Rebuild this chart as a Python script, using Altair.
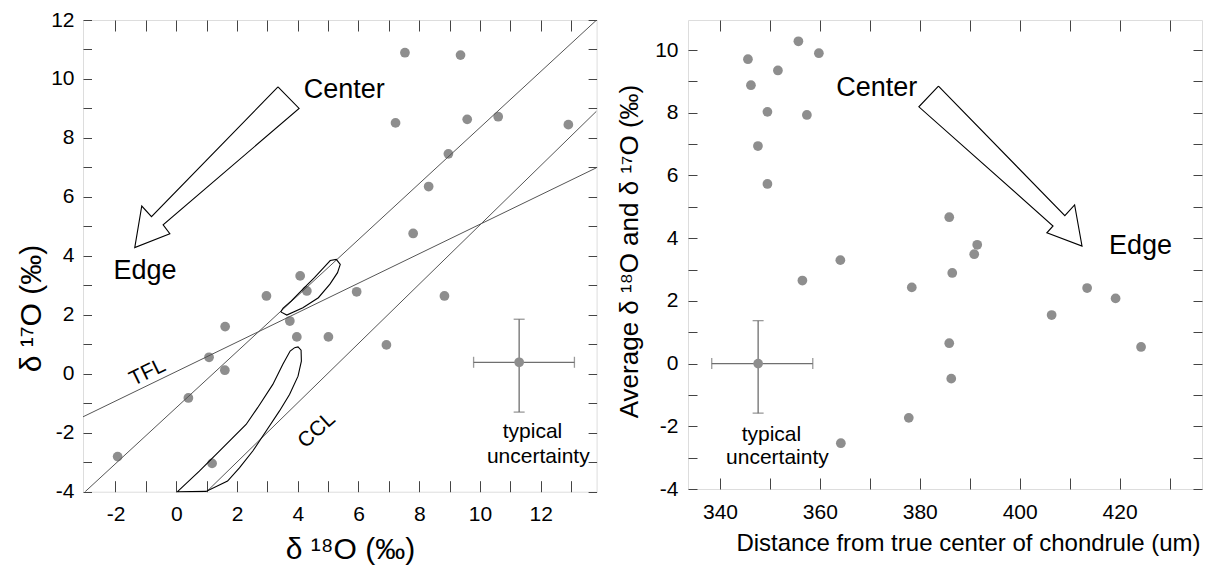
import altair as alt
import pandas as pd

FONT = "Liberation Sans"

# ---------------- left panel: three-isotope plot ----------------
d18O = [7.53, 9.36, 7.22, 9.58, 10.6, 12.91, 8.96, 8.31, 7.80, 4.08, 4.30, 2.97,
        5.94, 8.83, 1.61, 3.74, 3.97, 5.01, 6.92, 1.08, 1.60, 0.40, -1.93, 1.18]
d17O = [10.89, 10.81, 8.51, 8.63, 8.72, 8.45, 7.46, 6.35, 4.76, 3.32, 2.81, 2.64,
        2.78, 2.64, 1.60, 1.79, 1.25, 1.25, 0.98, 0.56, 0.12, -0.82, -2.81, -3.04]

# reference lines (end points)
line_name = ["TFL", "TFL", "CCAM", "CCAM", "CCL", "CCL"]
line_x = [-3.07, 13.84, -3.0, 13.84, 1.0, 13.84]
line_y = [-1.46, 6.99, -4.0, 12.0, -4.0, 8.91]

# outlined fields (small ellipse, large field) and arrow outline, in data units
ell_x = [3.44, 3.64, 4.17, 4.68, 5.06, 5.31, 5.40, 5.27, 5.07, 4.87, 4.55, 4.17, 3.79, 3.52, 3.44]
ell_y = [2.10, 1.99, 2.24, 2.58, 3.04, 3.43, 3.71, 3.88, 3.84, 3.62, 3.26, 2.87, 2.47, 2.23, 2.10]
fld_x = [3.89, 4.01, 4.11, 4.12, 4.01, 3.73, 3.40, 2.96, 2.52, 2.08, 1.69, 0.98, 0.04,
         0.76, 1.42, 2.30, 2.68, 3.18, 3.51, 3.75, 3.89]
fld_y = [0.88, 0.91, 0.80, 0.43, -0.08, -0.70, -1.26, -1.94, -2.62, -3.19, -3.64, -3.99, -4.0,
         -3.30, -2.62, -1.72, -1.15, -0.36, 0.32, 0.77, 0.88]
arrL_x = [3.35, -0.815, -1.135, -1.366, -0.21, -0.432, 4.045, 3.35]
arrL_y = [9.73, 5.33, 5.69, 4.28, 4.75, 5.05, 9.00, 9.73]

# typical uncertainty (left)
uncL_x, uncL_y = [11.29], [0.39]
uncL_xlo, uncL_xhi = [9.79], [13.11]
uncL_ylo, uncL_yhi = [-1.30], [1.85]

# annotations (left)
annL_text = ["Center", "Edge"]
annL_x = [5.53, -1.03]
annL_y = [9.34, 3.20]
uncL_text = ["typical", "uncertainty"]
uncL_tx = [11.73, 11.92]
uncL_ty = [-2.17, -3.02]
lineLab_text = ["TFL", "CCL"]
lineLab_x = [-0.94, 4.63]
lineLab_y = [0.04, -1.92]
lineLab_angle = [334, 318]

# ---------------- right panel: profile ----------------
dist = [345.6, 355.7, 359.8, 351.6, 346.2, 349.5, 357.4, 347.6, 349.5, 385.9, 391.5, 390.9,
        364.1, 386.5, 356.5, 378.4, 413.5, 419.2, 406.4, 385.9, 424.3, 386.3, 377.8, 364.2]
avgO = [9.71, 10.28, 9.90, 9.35, 8.88, 8.03, 7.93, 6.94, 5.73, 4.67, 3.79, 3.49,
        3.30, 2.89, 2.65, 2.43, 2.41, 2.08, 1.55, 0.65, 0.53, -0.48, -1.73, -2.54]

arrR_x = [383.74, 409.04, 411.0, 412.48, 405.44, 406.68, 379.82, 383.74]
arrR_y = [8.85, 4.72, 5.06, 3.75, 4.17, 4.39, 8.19, 8.85]

uncR_x, uncR_y = [347.64], [0.0]
uncR_xlo, uncR_xhi = [338.35], [358.58]
uncR_ylo, uncR_yhi = [-1.58], [1.37]

annR_text = ["Center", "Edge"]
annR_x = [371.4, 424.2]
annR_y = [8.53, 3.51]
uncR_text = ["typical", "uncertainty"]
uncR_tx = [350.3, 351.5]
uncR_ty = [-2.46, -3.20]

# ---------------- helpers ----------------
PT_COLOR = "#8e8e8e"
TICK_COLOR = "#444444"


def main_axis(orient, values, mod, tick, pad, title, **kw):
    return alt.Axis(
        orient=orient, values=values,
        labelExpr=f"datum.value % {mod} === 0 ? '' + datum.value : ''",
        tickSize=tick, offset=-tick, domain=False, grid=False,
        tickColor=TICK_COLOR, tickWidth=1,
        labelFont=FONT, labelFontSize=21, labelColor="black", labelPadding=pad,
        labelFlush=False, labelOverlap=False,
        title=title, titleFont=FONT, titleFontWeight="normal", titleColor="black",
        **kw)


def mirror_axis(orient, values, tick):
    return alt.Axis(orient=orient, values=values, labels=False, tickSize=tick,
                    offset=-tick, domain=False, grid=False,
                    tickColor=TICK_COLOR, tickWidth=1, title=None)


def panel(xs, ys, pts_x, pts_y, xaxis, yaxis, xtop, yright, extra):
    pts = alt.Chart(pd.DataFrame({"x": pts_x, "y": pts_y})).mark_circle(
        size=95, color=PT_COLOR, opacity=1).encode(
        x=alt.X("x:Q", scale=xs, axis=xaxis),
        y=alt.Y("y:Q", scale=ys, axis=yaxis))
    frame_ticks = alt.Chart(pd.DataFrame({"x": pts_x[:1], "y": pts_y[:1]})).mark_point(
        opacity=0).encode(
        x=alt.X("x:Q", scale=xs, axis=xtop),
        y=alt.Y("y:Q", scale=ys, axis=yright))
    return alt.layer(pts, frame_ticks, *extra).resolve_axis(x="independent", y="independent")


def enc(xs, ys, xf="x", yf="y"):
    return dict(x=alt.X(f"{xf}:Q", scale=xs, axis=None), y=alt.Y(f"{yf}:Q", scale=ys, axis=None))


def uncertainty(xs, ys, px, py, xlo, xhi, ylo, yhi):
    col = "#6f6f6f"
    h = alt.Chart(pd.DataFrame({"xlo": xlo, "xhi": xhi, "y": py})).mark_rule(
        color=col, strokeWidth=1.3).encode(
        x=alt.X("xlo:Q", scale=xs, axis=None), x2="xhi:Q", y=alt.Y("y:Q", scale=ys, axis=None))
    v = alt.Chart(pd.DataFrame({"x": px, "ylo": ylo, "yhi": yhi})).mark_rule(
        color=col, strokeWidth=1.3).encode(
        x=alt.X("x:Q", scale=xs, axis=None), y=alt.Y("ylo:Q", scale=ys, axis=None), y2="yhi:Q")
    capx = alt.Chart(pd.DataFrame({"x": xlo + xhi, "y": py * 2})).mark_tick(
        orient="vertical", size=11, thickness=1.3, color=col).encode(**enc(xs, ys))
    capy = alt.Chart(pd.DataFrame({"x": px * 2, "y": ylo + yhi})).mark_tick(
        orient="horizontal", size=11, thickness=1.3, color=col).encode(**enc(xs, ys))
    p = alt.Chart(pd.DataFrame({"x": px, "y": py})).mark_circle(
        size=95, color=PT_COLOR, opacity=1).encode(**enc(xs, ys))
    return [h, v, capx, capy, p]


def outline(xs, ys, xv, yv, name):
    df = pd.DataFrame({"x": xv, "y": yv, "o": list(range(len(xv))), "s": name})
    return alt.Chart(df).mark_line(color="black", strokeWidth=1.1).encode(
        detail="s:N", order="o:Q", **enc(xs, ys))


def texts(xs, ys, t, xv, yv, size, **kw):
    df = pd.DataFrame({"x": xv, "y": yv, "t": t})
    return alt.Chart(df).mark_text(font=FONT, fontSize=size, color="black", **kw).encode(
        text="t:N", **enc(xs, ys))


# ---------------- left panel ----------------
lxs = alt.Scale(domain=[-3.07, 13.84], nice=False, zero=False)
lys = alt.Scale(domain=[-4, 12], nice=False, zero=False)
lx_vals = list(range(-2, 14))
ly_vals = list(range(-4, 13))

left_extra = []
left_extra.append(alt.Chart(pd.DataFrame({"x": line_x, "y": line_y, "n": line_name})).mark_line(
    color="#555555", strokeWidth=1, clip=True).encode(detail="n:N", **enc(lxs, lys)))
left_extra.append(outline(lxs, lys, ell_x, ell_y, "ellipse"))
left_extra.append(outline(lxs, lys, fld_x, fld_y, "field"))
left_extra.append(outline(lxs, lys, arrL_x, arrL_y, "arrow"))
left_extra += uncertainty(lxs, lys, uncL_x, uncL_y, uncL_xlo, uncL_xhi, uncL_ylo, uncL_yhi)
left_extra.append(texts(lxs, lys, annL_text, annL_x, annL_y, 27, align="center", baseline="alphabetic"))
left_extra.append(texts(lxs, lys, uncL_text, uncL_tx, uncL_ty, 21, align="center", baseline="alphabetic"))
for t, x, y, a in zip(lineLab_text, lineLab_x, lineLab_y, lineLab_angle):
    left_extra.append(texts(lxs, lys, [t], [x], [y], 21, align="center", baseline="middle", angle=a))

left = panel(
    lxs, lys, d18O, d17O,
    main_axis("bottom", lx_vals, 2, 11, 12, "δ ¹⁸O (‰)", titleFontSize=30,
              titleX=267, titleY=78, titleAlign="center", titleBaseline="alphabetic"),
    main_axis("left", ly_vals, 2, 8.5, 9, "δ ¹⁷O (‰)", titleFontSize=30,
              titleX=-60, titleY=288, titleAngle=270, titleAlign="center", titleBaseline="middle"),
    mirror_axis("top", lx_vals, 11),
    mirror_axis("right", ly_vals, 8.5),
    left_extra,
).properties(width=513.6, height=471.7)

# ---------------- right panel ----------------
rxs = alt.Scale(domain=[333.6, 436.5], nice=False, zero=False)
rys = alt.Scale(domain=[-4, 10.96], nice=False, zero=False)
rx_vals = list(range(340, 431, 10))
ry_vals = list(range(-4, 11))

right_extra = []
right_extra.append(outline(rxs, rys, arrR_x, arrR_y, "arrow"))
right_extra += uncertainty(rxs, rys, uncR_x, uncR_y, uncR_xlo, uncR_xhi, uncR_ylo, uncR_yhi)
right_extra.append(texts(rxs, rys, annR_text, annR_x, annR_y, 27, align="center", baseline="alphabetic"))
right_extra.append(texts(rxs, rys, uncR_text, uncR_tx, uncR_ty, 21, align="center", baseline="alphabetic"))

right = panel(
    rxs, rys, dist, avgO,
    main_axis("bottom", rx_vals, 20, 11, 12, "Distance from true center of chondrule (um)",
              titleFontSize=24, titleX=280, titleY=72, titleAlign="center", titleBaseline="alphabetic"),
    main_axis("left", ry_vals, 2, 9, 10, "Average δ ¹⁸O and δ ¹⁷O (‰)", titleFontSize=26,
              titleX=-68, titleY=231, titleAngle=270, titleAlign="center", titleBaseline="middle"),
    mirror_axis("top", rx_vals, 11),
    mirror_axis("right", ry_vals, 9),
    right_extra,
).properties(width=514, height=469)

chart = alt.hconcat(left, right, spacing=91, bounds="flush").properties(
    padding={"left": 8, "top": 0, "right": 0, "bottom": 0}
).configure_view(stroke="#222222", strokeWidth=1).configure(font=FONT)

chart.save("out.html", embed_options={"renderer": "svg", "actions": False})
